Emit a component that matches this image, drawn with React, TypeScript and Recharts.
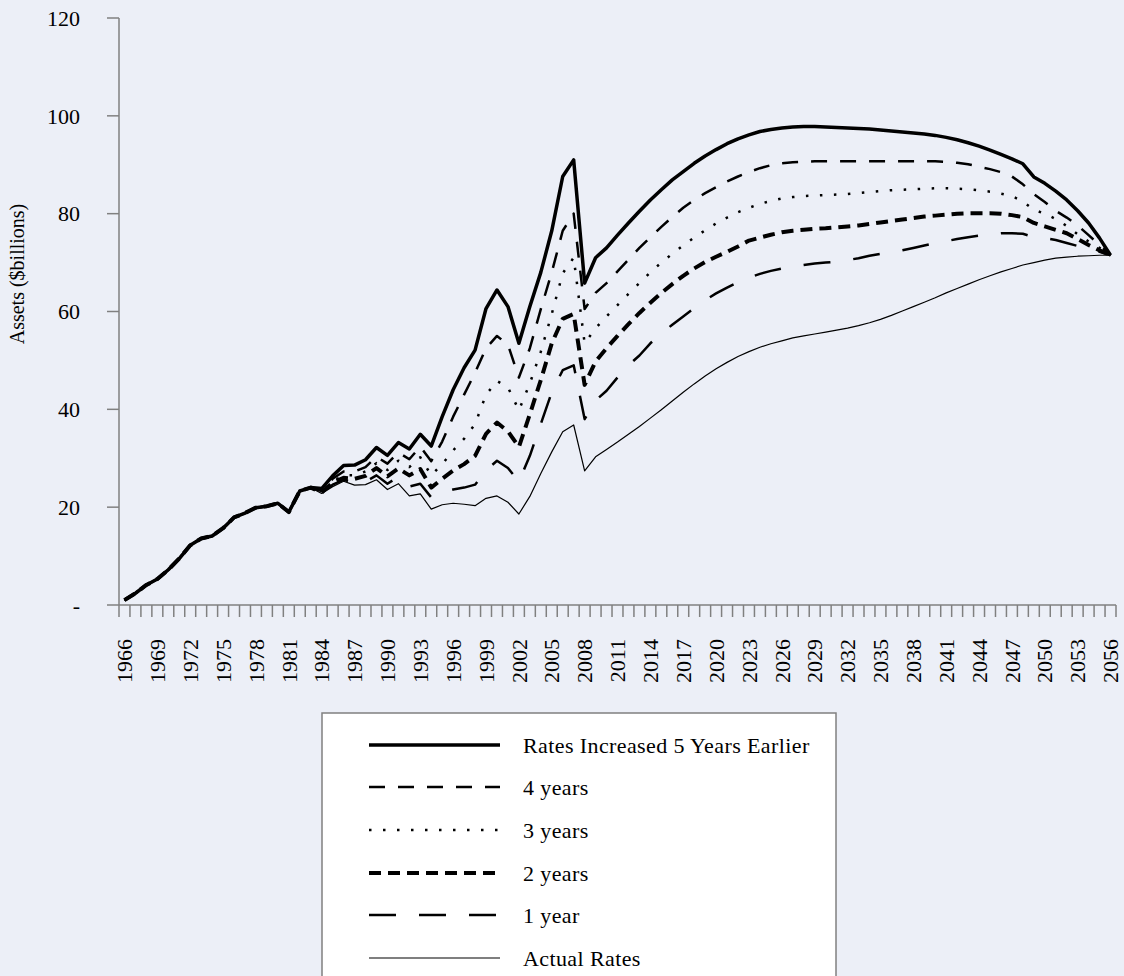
import React from 'react';
import { LineChart, Line, XAxis, YAxis, Label } from 'recharts';

// years on the category axis
const years = Array.from({ length: 91 }, (_, i) => String(1966 + i));

// 1966-1983: all scenarios share the same path
const shared = [1.0, 2.4, 4.1, 5.3, 7.2, 9.5, 12.2, 13.6, 14.1, 15.7, 17.9, 18.8, 19.9, 20.2, 20.8, 19.0, 23.3, 24.0];

// 1984-2056
const fiveYears = [
  23.8, 26.4, 28.5, 28.6, 29.7, 32.2, 30.6, 33.2, 31.9, 34.9,
  32.5, 38.5, 44.0, 48.5, 52.1, 60.6, 64.4, 61.0, 53.5, 61.0,
  68.0, 76.5, 87.6, 91.0, 65.8, 71.0, 73.0, 75.6, 78.1, 80.5,
  82.8, 84.9, 86.9, 88.6, 90.3, 91.8, 93.1, 94.3, 95.3, 96.1,
  96.8, 97.2, 97.5, 97.7, 97.8, 97.8, 97.7, 97.6, 97.5, 97.4,
  97.3, 97.1, 96.9, 96.7, 96.5, 96.3, 96.0, 95.6, 95.1, 94.5,
  93.8, 93.0, 92.1, 91.2, 90.2, 87.5, 86.2, 84.6, 82.8, 80.6,
  78.1, 75.0, 71.5,
];
const fourYears = [
  23.3, 25.8, 27.3, 27.3, 28.2, 30.3, 28.9, 31.2, 29.8, 32.4,
  29.4, 33.4, 38.5, 43.0, 47.5, 52.5, 55.0, 53.2, 46.5, 52.5,
  60.5, 68.0, 76.5, 80.0, 60.5, 63.8, 65.8, 68.2, 70.6, 73.0,
  75.2, 77.3, 79.3, 81.2, 82.8, 84.2, 85.4, 86.6, 87.6, 88.5,
  89.3, 89.9, 90.3, 90.5, 90.6, 90.7, 90.7, 90.7, 90.7, 90.7,
  90.7, 90.7, 90.7, 90.7, 90.7, 90.7, 90.7, 90.6, 90.4, 90.1,
  89.6, 89.1, 88.5, 87.6, 86.0, 84.0, 82.4, 80.6, 79.2, 77.6,
  75.6, 73.6, 71.5,
];
const threeYears = [
  23.2, 25.3, 26.5, 26.5, 27.3, 29.0, 27.6, 29.5, 28.2, 30.2,
  26.5, 28.8, 31.6, 34.0, 37.0, 43.0, 45.8, 44.5, 39.8, 45.3,
  51.8, 59.5, 67.8, 71.0, 53.5, 56.6, 59.0, 61.3, 63.6, 65.8,
  68.0, 70.0, 71.8, 73.5, 75.1, 76.6, 78.0, 79.2, 80.3, 81.2,
  82.0, 82.6, 83.1, 83.4, 83.6, 83.7, 83.8, 83.9, 84.0, 84.2,
  84.4, 84.6, 84.8, 84.9, 85.0, 85.1, 85.2, 85.2, 85.1, 85.0,
  84.8, 84.5, 84.1, 83.6, 82.5, 80.8, 80.0, 78.9, 77.5, 75.8,
  74.3, 73.0, 71.5,
];
const twoYears = [
  23.0, 25.0, 26.0, 25.8, 26.4, 28.0, 26.3, 27.9, 26.5, 27.8,
  24.0, 25.8, 27.5, 28.8, 30.5, 35.0, 37.3, 35.5, 32.3, 39.0,
  46.0, 53.5, 58.5, 59.5, 45.0, 49.8, 52.5, 55.0, 57.4, 59.7,
  61.8, 63.8, 65.6, 67.3, 68.8, 70.1, 71.2, 72.2, 73.3, 74.5,
  75.1, 75.7, 76.2, 76.5, 76.7, 76.9, 77.0, 77.2, 77.4, 77.6,
  77.9, 78.2, 78.5, 78.8, 79.1, 79.4, 79.6, 79.8, 80.0, 80.1,
  80.1, 80.1, 80.0, 79.7, 79.3, 78.1, 77.4, 76.7, 76.0, 74.8,
  73.6, 72.5, 71.5,
];
const oneYear = [
  23.0, 24.6, 25.6, 25.0, 25.2, 26.5, 24.8, 26.2, 24.2, 24.8,
  22.0, 23.0, 23.6, 24.0, 24.6, 27.5, 29.5, 28.0, 25.2, 30.5,
  37.0, 43.5, 48.0, 49.0, 38.0, 41.8, 43.8, 46.5, 49.0, 51.0,
  53.5, 55.5, 57.3, 59.0, 60.7, 62.3, 63.7, 64.9, 66.0, 66.9,
  67.7, 68.3, 68.8, 69.2, 69.5, 69.8, 70.0, 70.2, 70.5, 70.9,
  71.4, 71.8, 72.2, 72.5, 73.0, 73.5, 74.0, 74.4, 74.8, 75.2,
  75.5, 75.8, 76.0, 76.0, 75.9, 75.2, 75.0, 74.6, 74.0, 73.4,
  72.8, 72.2, 71.5,
];
const actualRates = [
  22.8, 24.2, 25.3, 24.5, 24.6, 25.6, 23.6, 24.8, 22.3, 22.7,
  19.6, 20.5, 20.8, 20.6, 20.3, 21.8, 22.3, 21.0, 18.6, 22.2,
  26.9, 31.3, 35.4, 36.8, 27.4, 30.3, 31.8, 33.3, 34.9, 36.5,
  38.2, 39.9, 41.7, 43.5, 45.2, 46.8, 48.3, 49.6, 50.8, 51.8,
  52.7, 53.4, 54.0, 54.6, 55.0, 55.4, 55.8, 56.2, 56.6, 57.1,
  57.7, 58.4, 59.2, 60.1, 61.0, 61.9, 62.8, 63.8, 64.7, 65.6,
  66.5, 67.3, 68.1, 68.8, 69.5, 70.0, 70.5, 70.9, 71.1, 71.3,
  71.4, 71.5, 71.5,
];

const yTicks = [0, 20, 40, 60, 80, 100, 120];

const series = [
  { key: 'five', name: 'Rates Increased 5 Years Earlier', values: fiveYears, width: 3.5, dash: undefined as string | undefined },
  { key: 'four', name: '4 years', values: fourYears, width: 2.5, dash: '16 13' },
  { key: 'three', name: '3 years', values: threeYears, width: 2.5, dash: '2.5 11.5' },
  { key: 'two', name: '2 years', values: twoYears, width: 4, dash: '12 7' },
  { key: 'one', name: '1 year', values: oneYear, width: 2.5, dash: '27 23' },
  { key: 'actual', name: 'Actual Rates', values: actualRates, width: 1.2, dash: undefined },
];

const data = years.map((year, i) => {
  const row: Record<string, number | string> = { year };
  series.forEach(s => {
    row[s.key] = i < shared.length ? shared[i] : s.values[i - shared.length];
  });
  return row;
});

const FONT = '"Liberation Serif", "Times New Roman", serif';
const AXIS = '#808080';
const BG = '#ECEFF7';

// plot box
const LEFT = 119;
const TOP = 18;
const PLOT_W = 997;
const PLOT_H = 587;
const HALF_BAND = PLOT_W / years.length / 2;

const XTick = (props: any) => {
  const { x, y, payload, index } = props;
  const yr = Number(payload.value);
  const showLabel = (yr - 1966) % 3 === 0;
  return (
    <g>
      <line x1={x - HALF_BAND} y1={y} x2={x - HALF_BAND} y2={y + 12} stroke={AXIS} strokeWidth={1.5} />
      {index === years.length - 1 && (
        <line x1={x + HALF_BAND} y1={y} x2={x + HALF_BAND} y2={y + 12} stroke={AXIS} strokeWidth={1.5} />
      )}
      {showLabel && (
        <text
          x={x}
          y={y + 34}
          transform={`rotate(-90 ${x} ${y + 34})`}
          textAnchor="end"
          dy="0.35em"
          fontFamily={FONT}
          fontSize={22}
          fill="#000"
        >
          {payload.value}
        </text>
      )}
    </g>
  );
};

const legendRows = [745, 787, 830, 873, 915, 958];

const ChartLegend = () => (
  <svg width={1124} height={976} style={{ position: 'absolute', left: 0, top: 0, pointerEvents: 'none' }}>
    <rect x={322} y={713} width={514} height={300} fill="#fff" stroke={AXIS} strokeWidth={1.5} />
    {series.map((s, i) => (
      <g key={s.key}>
        <line
          x1={369}
          x2={500}
          y1={legendRows[i]}
          y2={legendRows[i]}
          stroke="#000"
          strokeWidth={s.width}
          strokeDasharray={s.dash}
        />
        <text
          x={523}
          y={legendRows[i]}
          dy="0.35em"
          fontFamily={FONT}
          fontSize={22}
          letterSpacing={0.4}
          fill="#000"
        >
          {s.name}
        </text>
      </g>
    ))}
  </svg>
);

export default function App() {
  const ordered = [...series].reverse();
  return (
    <div style={{ position: 'relative', width: 1124, height: 976, background: BG, overflow: 'hidden' }}>
      <style>{'body{margin:0}'}</style>
      <LineChart
        width={1124}
        height={976}
        data={data}
        margin={{ top: TOP, right: 1124 - LEFT - PLOT_W, left: 0, bottom: 976 - TOP - PLOT_H - 100 }}
      >
        <XAxis
          dataKey="year"
          interval={0}
          height={100}
          padding={{ left: HALF_BAND, right: HALF_BAND }}
          axisLine={{ stroke: AXIS, strokeWidth: 1.5 }}
          tickLine={false}
          tickSize={0}
          tickMargin={0}
          tick={<XTick />}
        />
        <YAxis
          width={LEFT}
          domain={[0, 120]}
          ticks={yTicks}
          interval={0}
          tickFormatter={(v: number) => (v === 0 ? '-' : String(v))}
          axisLine={{ stroke: AXIS, strokeWidth: 1.5 }}
          tickLine={{ stroke: AXIS, strokeWidth: 1.5 }}
          tickSize={12}
          tickMargin={27}
          tick={{ fill: '#000', fontSize: 22, fontFamily: FONT }}
        >
          <Label
            content={() => (
              <text
                x={17}
                y={274}
                transform="rotate(-90 17 274)"
                textAnchor="middle"
                dy="0.35em"
                fontFamily={FONT}
                fontSize={20}
                fill="#000"
              >
                Assets ($billions)
              </text>
            )}
          />
        </YAxis>
        {ordered.map(s => (
          <Line
            key={s.key}
            type="linear"
            dataKey={s.key}
            name={s.name}
            stroke="#000"
            strokeWidth={s.width}
            strokeDasharray={s.dash}
            strokeLinejoin="round"
            dot={false}
            activeDot={false}
            isAnimationActive={false}
          />
        ))}
      </LineChart>
      <ChartLegend />
    </div>
  );
}
